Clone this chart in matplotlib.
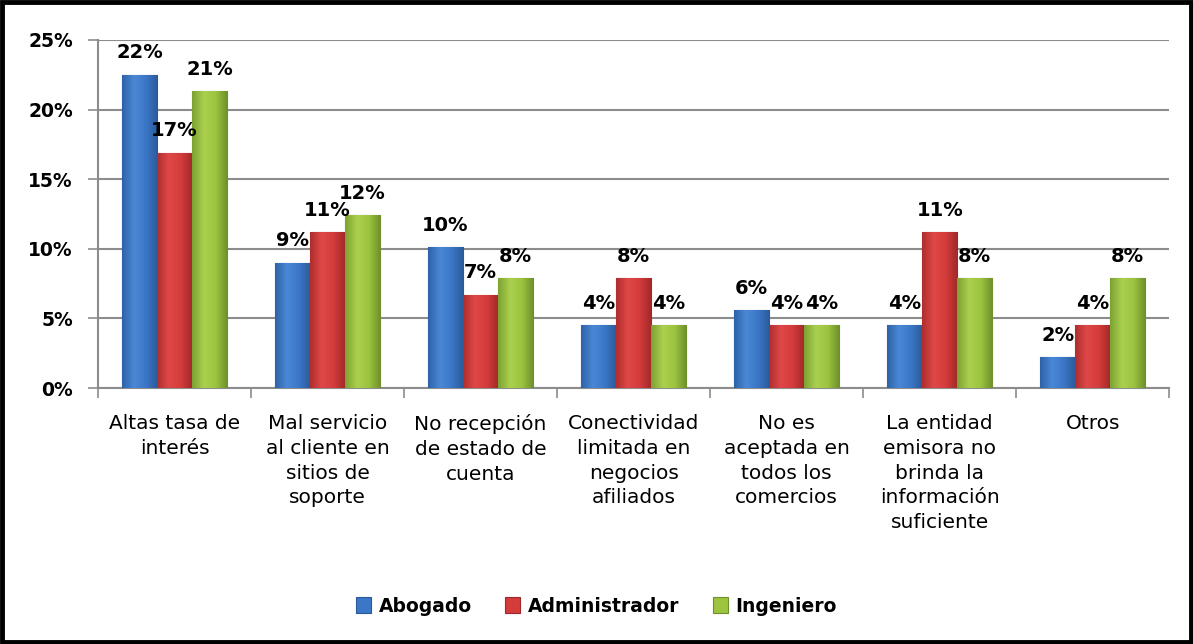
import matplotlib.pyplot as plt
import numpy as np
from matplotlib.colors import LinearSegmentedColormap
from matplotlib.patches import Rectangle
from matplotlib.ticker import FixedLocator, PercentFormatter

plt.rcParams['font.family'] = ['DejaVu Sans']

categories = ['Altas tasa de\ninterés',
              'Mal servicio\nal cliente en\nsitios de\nsoporte',
              'No recepción\nde estado de\ncuenta',
              'Conectividad\nlimitada en\nnegocios\nafiliados',
              'No es\naceptada en\ntodos los\ncomercios',
              'La entidad\nemisora no\nbrinda la\ninformación\nsuficiente',
              'Otros']
seriesNames = ['Abogado', 'Administrador', 'Ingeniero']
abogado = [22.5, 9.0, 10.1, 4.5, 5.6, 4.5, 2.2]
administrador = [16.9, 11.2, 6.7, 7.9, 4.5, 11.2, 4.5]
ingeniero = [21.3, 12.4, 7.9, 4.5, 4.5, 7.9, 7.9]
seriesValues = [abogado, administrador, ingeniero]

colors = ['#3B77C6', '#D43C3C', '#9CC43F']
gradients = [['#2E62A8', '#4A88D6', '#3B77C6', '#2A5A9A'],
             ['#B02E2E', '#E04848', '#D43C3C', '#A02828'],
             ['#7DA232', '#ABD04E', '#9CC43F', '#6E8F2A']]

fig = plt.figure(figsize=(11.93, 6.44), dpi=100)
ax = fig.add_axes([0.0821, 0.3975, 0.898, 0.5404])

x = np.arange(len(categories))
barWidth = 0.229

for i, (name, values) in enumerate(zip(seriesNames, seriesValues)):
    positions = x + (i - 1) * barWidth
    bars = ax.bar(positions, values, barWidth, color=colors[i], edgecolor=gradients[i][3],
                  linewidth=0.8, label=name, zorder=3)
    cmap = LinearSegmentedColormap.from_list('bar%d' % i, gradients[i])
    for bar, value in zip(bars, values):
        x0 = bar.get_x()
        x1 = x0 + bar.get_width()
        img = ax.imshow(np.linspace(0, 1, 64).reshape(1, -1), cmap=cmap, aspect='auto',
                        extent=(x0, x1, 0, value), zorder=3.5, interpolation='bicubic')
        img.set_clip_path(bar)
        ax.annotate('%d%%' % round(value), (x0 + bar.get_width() / 2, value),
                    xytext=(0, 9), textcoords='offset points', ha='center', va='bottom',
                    fontsize=14, fontweight='bold', zorder=4)

ax.set_xlim(-0.5, len(categories) - 0.5)
ax.set_ylim(0, 25)
ax.set_yticks(np.arange(0, 26, 5))
ax.yaxis.set_major_formatter(PercentFormatter(decimals=0))
ax.yaxis.grid(True, color='#8C8C8C', linewidth=1.5, zorder=0)

ax.set_xticks(x)
ax.set_xticklabels(categories, fontsize=14.5, linespacing=1.38, va='top')
ax.xaxis.set_minor_locator(FixedLocator(np.arange(-0.5, len(categories), 1)))
ax.tick_params(axis='x', which='major', length=0, pad=19)
ax.tick_params(axis='x', which='minor', length=7, color='#8C8C8C', width=1.2)
ax.tick_params(axis='y', length=7, color='#8C8C8C', width=1.2, labelsize=13.5, pad=11)
for label in ax.get_yticklabels():
    label.set_fontweight('bold')

for side in ['top', 'right']:
    ax.spines[side].set_visible(False)
for side in ['left', 'bottom']:
    ax.spines[side].set_color('#8C8C8C')
    ax.spines[side].set_linewidth(1.5)

fig.legend(loc='center', bbox_to_anchor=(0.5, 0.059), ncol=3, frameon=False,
           handlelength=0.8, handleheight=0.9, handletextpad=0.4, columnspacing=1.8,
           prop={'weight': 'bold', 'size': 13.5})

fig.patches.append(Rectangle((0.002, 0.003), 0.996, 0.994, transform=fig.transFigure,
                             fill=False, edgecolor='black', linewidth=3.5))

fig.savefig('out.png', dpi=100)
